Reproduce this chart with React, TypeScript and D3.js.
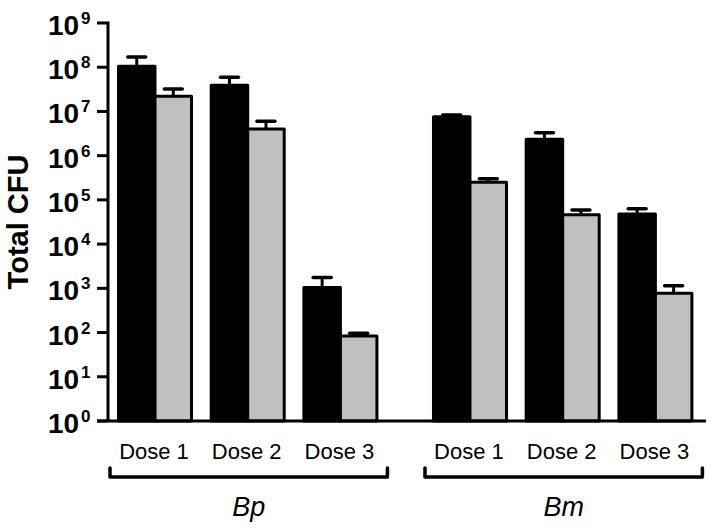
import React from "react";
import * as d3 from "d3";

// ---- data ----
const groups = ["Bp", "Bm"];
const doses = ["Dose 1", "Dose 2", "Dose 3"];
const seriesNames = ["black", "gray"];
const seriesColors = ["#000000", "#c0c0c0"];

const bpBlackMean = [1.05e8, 3.9e7, 1.04e3];
const bpBlackUpper = [1.7e8, 5.9e7, 1.75e3];
const bpGrayMean = [2.2e7, 4.0e6, 84];
const bpGrayUpper = [3.2e7, 6.0e6, 96];

const bmBlackMean = [7.6e6, 2.35e6, 4.8e4];
const bmBlackUpper = [8.3e6, 3.3e6, 6.3e4];
const bmGrayMean = [2.5e5, 4.6e4, 7.7e2];
const bmGrayUpper = [3.0e5, 5.9e4, 1.15e3];

const tickExponents = [0, 1, 2, 3, 4, 5, 6, 7, 8, 9];
const yLabel = "Total CFU";

const means: Record<string, number[][]> = {
  Bp: [bpBlackMean, bpGrayMean],
  Bm: [bmBlackMean, bmGrayMean],
};
const uppers: Record<string, number[][]> = {
  Bp: [bpBlackUpper, bpGrayUpper],
  Bm: [bmBlackUpper, bmGrayUpper],
};

const W = 718;
const H = 529;
const FONT = "'Liberation Sans', Arial, Helvetica, sans-serif";

export default function App() {
  const y = d3.scaleLog().domain([1, 1e9]).range([421, 23]);
  const xGroup = d3
    .scaleBand<string>()
    .domain(groups)
    .range([117, 693.4])
    .paddingInner(0.17)
    .paddingOuter(0);
  const xDose = d3
    .scaleBand<string>()
    .domain(doses)
    .range([0, xGroup.bandwidth()])
    .paddingInner(0.18)
    .paddingOuter(0);
  const xSeries = d3
    .scaleBand<string>()
    .domain(seriesNames)
    .range([1.5, xDose.bandwidth() - 1.5]);

  const axisX = 108;
  const baseY = y(1);
  const sw = 3;

  return (
    <svg
      width={W}
      height={H}
      style={{ position: "absolute", left: 0, top: 0, background: "#fff" }}
      fontFamily={FONT}
    >
      <rect x={0} y={0} width={W} height={H} fill="#fff" />
      {/* bars */}
      {groups.map((g) =>
        doses.map((d, di) =>
          seriesNames.map((s, si) => {
            const x0 = (xGroup(g) as number) + (xDose(d) as number) + (xSeries(s) as number);
            const w = xSeries.bandwidth();
            const v = means[g][si][di];
            const u = uppers[g][si][di];
            const cx = x0 + w / 2;
            return (
              <g key={`${g}-${d}-${s}`}>
                <line x1={cx} x2={cx} y1={y(v)} y2={y(u)} stroke="#000" strokeWidth={3} />
                <line
                  x1={cx - 9}
                  x2={cx + 9}
                  y1={y(u)}
                  y2={y(u)}
                  stroke="#000"
                  strokeWidth={3.5}
                  strokeLinecap="round"
                />
                <rect
                  x={x0}
                  y={y(v)}
                  width={w}
                  height={baseY - y(v)}
                  fill={seriesColors[si]}
                  stroke="#000"
                  strokeWidth={sw}
                  strokeLinejoin="round"
                />
              </g>
            );
          })
        )
      )}

      {/* y axis */}
      <line x1={axisX} x2={axisX} y1={y(1e9) - 1.5} y2={baseY} stroke="#000" strokeWidth={3} />
      {tickExponents.map((e) => {
        const ty = y(Math.pow(10, e));
        return (
          <g key={e}>
            <line x1={97} x2={axisX} y1={ty} y2={ty} stroke="#000" strokeWidth={3} />
            <text x={48} y={ty + 12} fontSize={28} fontWeight="bold" fill="#000">
              10
            </text>
            <text x={81} y={ty + 1} fontSize={17} fontWeight="bold" fill="#000">
              {e}
            </text>
          </g>
        );
      })}
      {/* x axis */}
      <line x1={97} x2={706} y1={baseY} y2={baseY} stroke="#000" strokeWidth={3} />

      {/* y label */}
      <text
        transform={`translate(28, 222) rotate(-90)`}
        textAnchor="middle"
        fontSize={29}
        fontWeight="bold"
        fill="#000"
      >
        {yLabel}
      </text>

      {/* dose labels */}
      {groups.map((g) =>
        doses.map((d) => (
          <text
            key={`${g}-${d}-lab`}
            x={(xGroup(g) as number) + (xDose(d) as number) + xDose.bandwidth() / 2 - 1}
            y={459}
            textAnchor="middle"
            fontSize={22}
            fill="#000"
          >
            {d}
          </text>
        ))
      )}

      {/* brackets + group labels */}
      {groups.map((g) => {
        const x0 = (xGroup(g) as number) - 7;
        const x1 = (xGroup(g) as number) + xGroup.bandwidth() + 9;
        return (
          <g key={`${g}-br`}>
            <path
              d={`M${x0},468 L${x0},477 L${x1},477 L${x1},468`}
              fill="none"
              stroke="#000"
              strokeWidth={3.5}
              strokeLinejoin="round"
              strokeLinecap="round"
            />
            <text
              x={(x0 + x1) / 2}
              y={516}
              textAnchor="middle"
              fontSize={27}
              fontStyle="italic"
              fill="#000"
            >
              {g}
            </text>
          </g>
        );
      })}
    </svg>
  );
}
